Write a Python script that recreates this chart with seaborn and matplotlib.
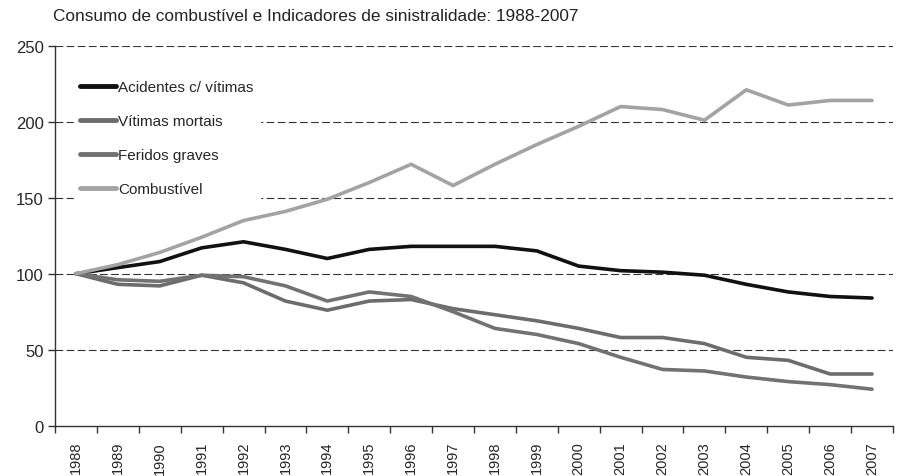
import pandas as pd
import matplotlib.pyplot as plt
import seaborn as sns


years = [str(y) for y in range(1988, 2008)]

acidentes = [100, 104, 108, 117, 121, 116, 110, 116, 118, 118,
             118, 115, 105, 102, 101, 99, 93, 88, 85, 84]
mortais = [100, 93, 92, 99, 94, 82, 76, 82, 83, 77,
           73, 69, 64, 58, 58, 54, 45, 43, 34, 34]
feridos = [100, 96, 95, 99, 98, 92, 82, 88, 85, 75,
           64, 60, 54, 45, 37, 36, 32, 29, 27, 24]
combustivel = [100, 106, 114, 124, 135, 141, 149, 160, 172, 158,
               172, 185, 197, 210, 208, 201, 221, 211, 214, 214]

series_names = ["Acidentes c/ vítimas", "Vítimas mortais",
                "Feridos graves", "Combustível"]
series_colors = ["#111111", "#6c6c6c", "#727272", "#a3a3a3"]


def build_frame():
    rows = []
    for name, values in zip(series_names,
                            [acidentes, mortais, feridos, combustivel]):
        for i, v in enumerate(values):
            rows.append({"pos": i, "ano": years[i], "serie": name, "valor": v})
    return pd.DataFrame(rows)


def main():
    sns.set_style("white")
    plt.rcParams["font.family"] = ["Liberation Sans", "DejaVu Sans"]

    df = build_frame()

    fig = plt.figure(figsize=(9.02, 4.77), dpi=100)
    ax = fig.add_axes([0.061, 0.1055, 0.929, 0.7965])

    for y in [50, 100, 150, 200, 250]:
        ax.axhline(y, color="#333333", lw=0.8,
                   linestyle=(0, (7, 3)), zorder=1)

    sns.lineplot(
        data=df,
        x="pos",
        y="valor",
        hue="serie",
        hue_order=series_names,
        palette=dict(zip(series_names, series_colors)),
        linewidth=2.6,
        ax=ax,
        zorder=3,
    )
    for line in ax.get_lines()[5:]:
        line.set_solid_capstyle("round")

    ax.set_xlim(-0.5, 19.5)
    ax.set_ylim(0, 250)
    ax.set_yticks([0, 50, 100, 150, 200, 250])
    ax.set_xticks(range(20))
    ax.set_xticklabels(years, rotation=90)
    ax.set_xticks([i - 0.5 for i in range(21)], minor=True)
    ax.tick_params(axis="x", which="major", length=0, pad=11, labelsize=10.5)
    ax.tick_params(axis="x", which="minor", length=5, width=1,
                   color="#333333", direction="out", bottom=True)
    ax.tick_params(axis="y", length=5, width=1, color="#333333",
                   direction="out", left=True, labelsize=12, pad=3)
    ax.set_xlabel("")
    ax.set_ylabel("")

    for side in ["top", "right"]:
        ax.spines[side].set_visible(False)
    for side in ["left", "bottom"]:
        ax.spines[side].set_color("#333333")
        ax.spines[side].set_linewidth(1)

    leg = ax.legend(
        loc="upper left",
        bbox_to_anchor=(0.013, 0.945),
        frameon=True,
        facecolor="white",
        edgecolor="white",
        framealpha=1,
        fontsize=11,
        handlelength=2.4,
        handletextpad=0.12,
        labelspacing=1.3,
        borderpad=0.4,
    )
    for h in leg.get_lines():
        h.set_linewidth(3.5)
        h.set_solid_capstyle("round")
    leg.set_zorder(5)

    fig.text(0.059, 0.966,
             "Consumo de combustível e Indicadores de sinistralidade: 1988-2007",
             fontsize=12.4, ha="left", va="center", color="#222222")

    fig.savefig("out.png", dpi=100)
    plt.close(fig)


if __name__ == "__main__":
    main()
